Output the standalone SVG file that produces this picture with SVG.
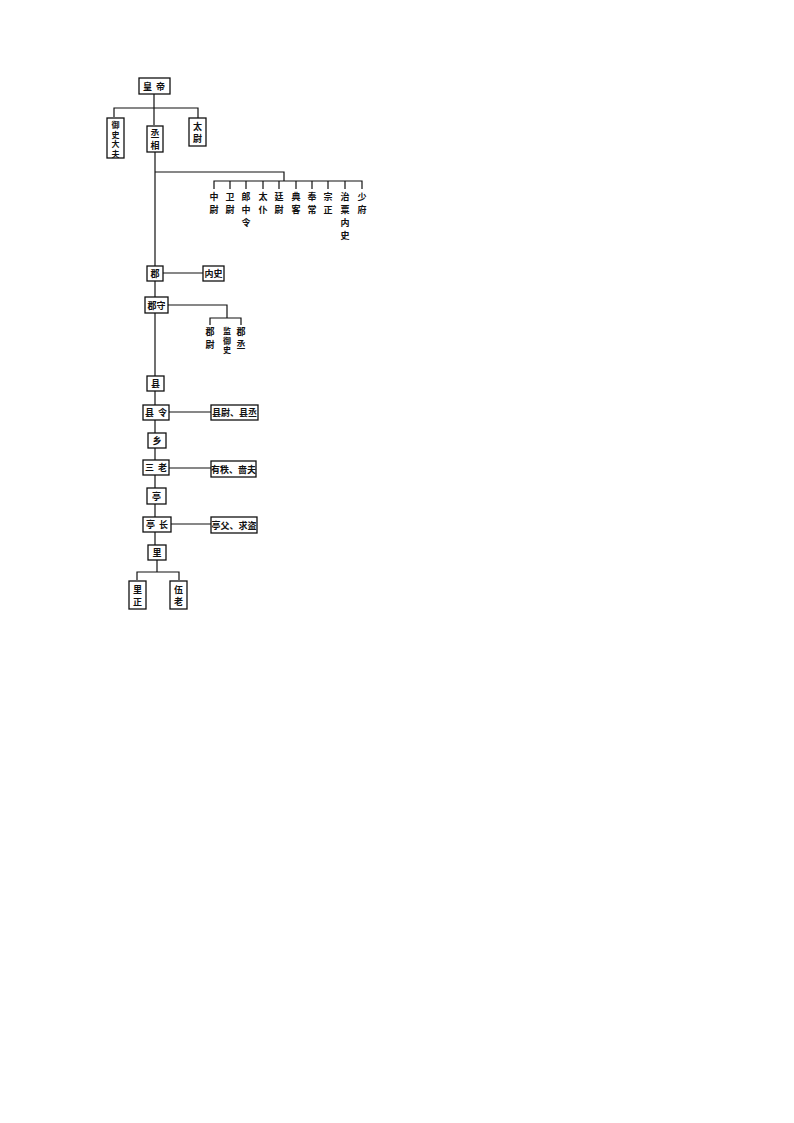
<svg xmlns="http://www.w3.org/2000/svg" width="794" height="1123" viewBox="0 0 794 1123">
<style>
.b{fill:#fff;stroke:#111;stroke-width:1.3}
.l{fill:none;stroke:#111;stroke-width:1.2}
text{font-family:"Noto Sans CJK SC","Noto Sans CJK TC",sans-serif;font-size:9px;fill:#111;text-anchor:middle;dominant-baseline:central;font-weight:bold}
.s{font-size:8px}
</style>
<rect width="794" height="1123" fill="#fff"/>
<g id="connectors">
<path class="l" d="M154 94V125M114 117V108H198V118"/>
<path class="l" d="M155 152V545"/>
<path class="l" d="M155 172H284V181M214 189V181H362V189M230 181V189M246 181V189M263 181V189M279 181V189M296 181V189M312 181V189M328 181V189M345 181V189"/>
<path class="l" d="M163 273H203"/>
<path class="l" d="M168 305H227V318M210 325V318H241V325"/>
<path class="l" d="M169 412H211M169 468H211M171 524H211"/>
<path class="l" d="M157 560V572M137 580V572H179V580"/>
</g>
<g id="n-huangdi"><rect class="b" x="139" y="78" width="31" height="16"/><text x="156" y="86" letter-spacing="4">皇帝</text></g>
<g id="n-yushidafu"><rect class="b" x="107" y="118" width="17" height="40"/><text class="s"><tspan x="115.5" y="124">御</tspan><tspan x="115.5" y="133.5">史</tspan><tspan x="115.5" y="143">大</tspan><tspan x="115.5" y="152.5">夫</tspan></text></g>
<g id="n-chengxiang"><rect class="b" x="147" y="126" width="16" height="26"/><text><tspan x="155" y="133">丞</tspan><tspan x="155" y="145">相</tspan></text></g>
<g id="n-taiwei"><rect class="b" x="189" y="118" width="17" height="28"/><text><tspan x="197.5" y="126">太</tspan><tspan x="197.5" y="138">尉</tspan></text></g>
<g id="n-zhongwei"><text><tspan x="214" y="196">中</tspan><tspan x="214" y="209">尉</tspan></text></g>
<g id="n-weiwei"><text><tspan x="230" y="196">卫</tspan><tspan x="230" y="209">尉</tspan></text></g>
<g id="n-langzhongling"><text><tspan x="246" y="196">郎</tspan><tspan x="246" y="209">中</tspan><tspan x="246" y="222">令</tspan></text></g>
<g id="n-taipu"><text><tspan x="263" y="196">太</tspan><tspan x="263" y="209">仆</tspan></text></g>
<g id="n-tingwei"><text><tspan x="279" y="196">廷</tspan><tspan x="279" y="209">尉</tspan></text></g>
<g id="n-dianke"><text><tspan x="296" y="196">典</tspan><tspan x="296" y="209">客</tspan></text></g>
<g id="n-fengchang"><text><tspan x="312" y="196">奉</tspan><tspan x="312" y="209">常</tspan></text></g>
<g id="n-zongzheng"><text><tspan x="328" y="196">宗</tspan><tspan x="328" y="209">正</tspan></text></g>
<g id="n-zhisuneishi"><text><tspan x="345" y="196">治</tspan><tspan x="345" y="209">粟</tspan><tspan x="345" y="222">内</tspan><tspan x="345" y="235">史</tspan></text></g>
<g id="n-shaofu"><text><tspan x="362" y="196">少</tspan><tspan x="362" y="209">府</tspan></text></g>
<g id="n-jun"><rect class="b" x="147" y="266" width="16" height="15"/><text x="155" y="273.5">郡</text></g>
<g id="n-neishi"><rect class="b" x="203" y="266" width="21" height="15"/><text x="213.5" y="273.5">内史</text></g>
<g id="n-junshou"><rect class="b" x="145" y="297" width="23" height="16"/><text x="156.5" y="305">郡守</text></g>
<g id="n-junwei"><text><tspan x="210" y="331">郡</tspan><tspan x="210" y="344">尉</tspan></text></g>
<g id="n-jianyushi"><text class="s"><tspan x="227" y="330">监</tspan><tspan x="227" y="339.5">御</tspan><tspan x="227" y="349">史</tspan></text></g>
<g id="n-juncheng"><text><tspan x="241" y="331">郡</tspan><tspan x="241" y="344">丞</tspan></text></g>
<g id="n-xian"><rect class="b" x="147" y="376" width="17" height="15"/><text x="155.5" y="383.5">县</text></g>
<g id="n-xianling"><rect class="b" x="143" y="405" width="26" height="15"/><text x="158" y="412.5" letter-spacing="4">县令</text></g>
<g id="n-xianwei"><rect class="b" x="211" y="405" width="47" height="15"/><text x="234.5" y="412.5">县尉、县丞</text></g>
<g id="n-xiang"><rect class="b" x="148" y="433" width="18" height="15"/><text x="157" y="440.5">乡</text></g>
<g id="n-sanlao"><rect class="b" x="143" y="460" width="26" height="15"/><text x="158" y="467.5" letter-spacing="4">三老</text></g>
<g id="n-youzhi"><rect class="b" x="211" y="461" width="45" height="16"/><text x="233.5" y="469">有秩、啬夫</text></g>
<g id="n-ting"><rect class="b" x="147" y="488" width="19" height="16"/><text x="156.5" y="496">亭</text></g>
<g id="n-tingzhang"><rect class="b" x="143" y="517" width="28" height="15"/><text x="159" y="524.5" letter-spacing="4">亭长</text></g>
<g id="n-tingfu"><rect class="b" x="211" y="517" width="46" height="16"/><text x="234" y="525">亭父、求盗</text></g>
<g id="n-li"><rect class="b" x="148" y="545" width="18" height="15"/><text x="157" y="552.5">里</text></g>
<g id="n-lizheng"><rect class="b" x="129" y="581" width="17" height="28"/><text><tspan x="137.5" y="589">里</tspan><tspan x="137.5" y="601">正</tspan></text></g>
<g id="n-wulao"><rect class="b" x="170" y="581" width="17" height="28"/><text><tspan x="178.5" y="589">伍</tspan><tspan x="178.5" y="601">老</tspan></text></g>
</svg>
